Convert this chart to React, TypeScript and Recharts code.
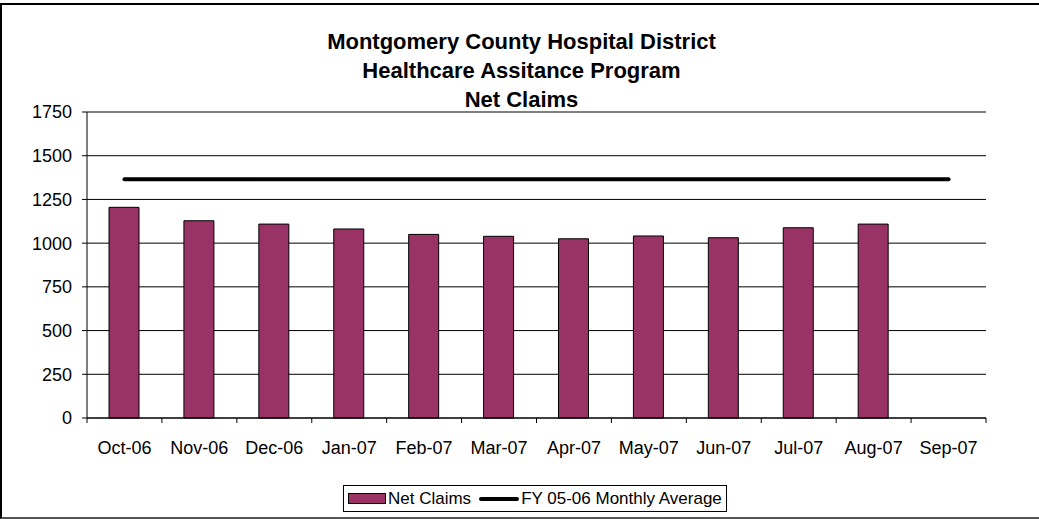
import { Bar, CartesianGrid, ComposedChart, Legend, Line, XAxis, YAxis } from 'recharts';

const months = [
  'Oct-06', 'Nov-06', 'Dec-06', 'Jan-07', 'Feb-07', 'Mar-07',
  'Apr-07', 'May-07', 'Jun-07', 'Jul-07', 'Aug-07', 'Sep-07',
];
const netClaims = [1205, 1128, 1109, 1081, 1050, 1039, 1025, 1041, 1031, 1088, 1109, null];
const fyAverage = [1365, 1365, 1365, 1365, 1365, 1365, 1365, 1365, 1365, 1365, 1365, 1365];
const yTicks = [0, 250, 500, 750, 1000, 1250, 1500, 1750];

const data = months.map((month, i) => ({
  month,
  claims: netClaims[i],
  avg: fyAverage[i],
}));

const font = '"Liberation Sans", Arial, sans-serif';

function MonthTick(props: any) {
  const { x, y, payload, index, width } = props;
  const half = typeof width === 'number' ? width / months.length / 2 : payload.offset;
  return (
    <g>
      <line x1={x - half} x2={x - half} y1={y} y2={y + 5} stroke="#000" />
      {index === months.length - 1 && (
        <line x1={x + half} x2={x + half} y1={y} y2={y + 5} stroke="#000" />
      )}
      <text x={x} y={y + 36} textAnchor="middle" fontSize={18} fill="#000" fontFamily={font}>
        {payload.value}
      </text>
    </g>
  );
}

function LegendBox() {
  return (
    <div
      style={{
        display: 'inline-flex',
        alignItems: 'center',
        border: '1px solid #000',
        background: '#fff',
        padding: '3px 4px',
        fontFamily: font,
        fontSize: 17,
        color: '#000',
        lineHeight: '19px',
        whiteSpace: 'nowrap',
      }}
    >
      <span style={{ width: 36, height: 9, background: '#993366', border: '1px solid #000', marginRight: 2 }} />
      <span>Net Claims</span>
      <span style={{ width: 40, height: 4, background: '#000', borderRadius: 2, margin: '0 2px 0 8px' }} />
      <span>FY 05-06 Monthly Average</span>
    </div>
  );
}

export default function App() {
  return (
    <div style={{ position: 'absolute', left: 0, top: 0, width: 1039, height: 519, overflow: 'hidden', background: '#fff' }}>
      <div
        style={{
          position: 'absolute',
          left: 0,
          top: 3,
          width: 1060,
          height: 516,
          boxSizing: 'border-box',
          border: '2px solid #000',
          borderBottom: '2px solid #555',
        }}
      />
      <div
        style={{
          position: 'absolute',
          left: 0,
          width: 1043,
          top: 27,
          textAlign: 'center',
          fontFamily: font,
          fontWeight: 'bold',
          fontSize: 22,
          lineHeight: '29px',
          color: '#000',
        }}
      >
        <div>Montgomery County Hospital District</div>
        <div>Healthcare Assitance Program</div>
        <div>Net Claims</div>
      </div>
      <ComposedChart
        width={1039}
        height={519}
        data={data}
        margin={{ top: 112, right: 53, left: 0, bottom: 34 }}
        style={{ position: 'absolute', left: 0, top: 0 }}
      >
        <CartesianGrid vertical={false} stroke="#000" />
        <XAxis
          dataKey="month"
          height={40}
          axisLine={{ stroke: '#000' }}
          tickLine={false}
          tickSize={0}
          tickMargin={0}
          tick={<MonthTick />}
          interval={0}
        />
        <YAxis
          width={87}
          domain={[0, 1750]}
          ticks={yTicks}
          axisLine={{ stroke: '#000' }}
          tickLine={{ stroke: '#000' }}
          tickSize={5}
          tickMargin={10}
          tick={{ fill: '#000', fontSize: 18, fontFamily: font }}
        />
        <YAxis yAxisId="right" orientation="right" width={0} tick={false} tickLine={false} axisLine={{ stroke: '#888' }} />
        <Bar
          dataKey="claims"
          name="Net Claims"
          fill="#993366"
          stroke="#000"
          strokeWidth={1}
          barSize={30}
          isAnimationActive={false}
        />
        <Line
          dataKey="avg"
          name="FY 05-06 Monthly Average"
          stroke="#000"
          strokeWidth={4}
          strokeLinecap="round"
          dot={false}
          activeDot={false}
          isAnimationActive={false}
        />
        <Legend
          content={<LegendBox />}
          wrapperStyle={{ left: 343, top: 485, bottom: 'auto', width: 'auto' }}
        />
      </ComposedChart>
    </div>
  );
}
